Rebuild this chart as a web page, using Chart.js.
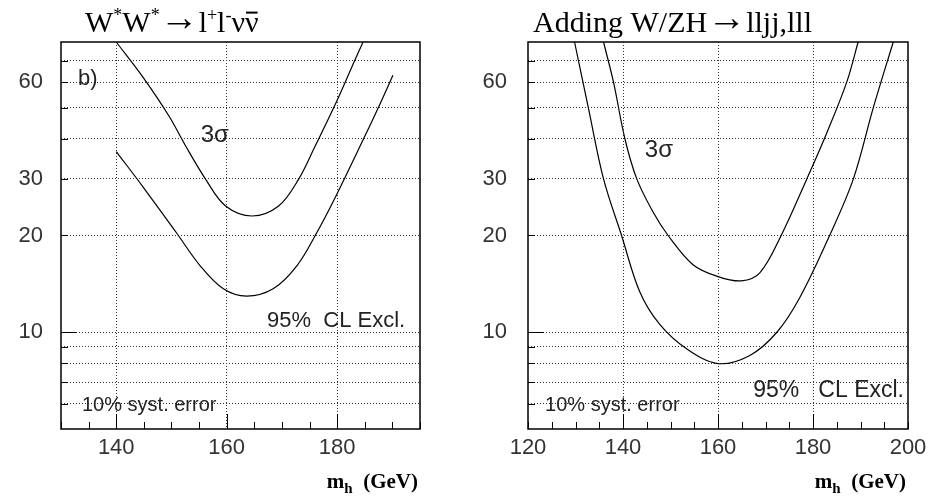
<!DOCTYPE html>
<html>
<head>
<meta charset="utf-8">
<script src="https://cdn.jsdelivr.net/npm/chart.js@4.4.1/dist/chart.umd.min.js"></script>
<style>
html, body { margin: 0; padding: 0; background: #fff; }
#wrap { position: relative; width: 944px; height: 499px; }
#wrap canvas { position: absolute; top: 0; }
</style>
</head>
<body>
<div id="wrap">
  <canvas id="leftChart" width="472" height="499" style="left:0"></canvas>
  <canvas id="rightChart" width="472" height="499" style="left:472px"></canvas>
</div>
<script>
// ---- data ----
// left panel: W*W* -> l+l- nu nubar
const leftMass3s = [140, 144.8, 149.6, 152.6, 156.2, 159.8, 164.6, 169.4, 173, 176, 179.6, 183.2, 184.7];
const left3s     = [80, 62.3, 46.9, 37.9, 29.9, 24.7, 23.0, 24.7, 29.9, 37.9, 50.9, 70.2, 80];
const leftMass95 = [140, 144.8, 150.9, 155.2, 159.4, 163.6, 168.4, 172.7, 176.3, 179.9, 184.7, 187.8, 190.1];
const left95     = [36.5, 28.4, 20.4, 16.1, 13.65, 12.95, 13.65, 16.1, 20.4, 26.8, 39.7, 51.5, 63];

// right panel: adding W/ZH -> lljj, lll
const rightMass3s = [135.9, 138, 140.4, 142.9, 146.3, 149.5, 154.8, 160, 164.9, 168.8, 173.3, 178.7, 182.9, 187.1, 189.5];
const right3s     = [80, 60, 40, 30, 23.7, 20, 16.2, 14.9, 14.45, 15.3, 20, 30, 41.7, 60, 80];
const rightMass95 = [129.8, 132.7, 135.9, 139.7, 143.5, 147.7, 153.4, 160, 166.7, 172.4, 177.2, 183.5, 188.5, 192.7, 196.9];
const right95     = [80, 50, 30, 20, 13.4, 10.6, 8.88, 7.99, 8.47, 10, 12.8, 20, 30, 50, 80];

// axes
const yGridValues  = [6, 7, 8, 9, 10, 20, 30, 40, 50, 60, 70];
const yLabelValues = [10, 20, 30, 60];
const yMajorValues = [10];
const leftXTicks   = [130, 135, 140, 145, 150, 155, 160, 165, 170, 175, 180, 185, 190, 195];
const rightXTicks  = [120, 125, 130, 135, 140, 145, 150, 155, 160, 165, 170, 175, 180, 185, 190, 195, 200];
const leftXLabels  = [140, 160, 180];
const rightXLabels = [120, 140, 160, 180, 200];
const xGridValues  = [140, 160, 180];

const SANS = "'Liberation Sans', Arial, sans-serif";
const SERIF = "'Liberation Serif', 'Times New Roman', serif";

Chart.defaults.animation = false;
Chart.defaults.plugins.legend.display = false;
Chart.defaults.plugins.tooltip.enabled = false;

// draw text made of pieces (superscripts, subscripts, overbars)
function drawRich(ctx, x, y, parts, size, family, weight) {
    parts.forEach(([t, s, dy, bar]) => {
        ctx.font = weight + ' ' + Math.round(size * s) + 'px ' + family;
        ctx.fillText(t, x, y + dy);
        const w = ctx.measureText(t).width;
        if (bar) {
            ctx.fillRect(x + 1, y - size * 0.68, w - 2, 2);
        }
        x += w;
    });
}

function toPoints(xs, ys) {
    return xs.map((m, i) => ({ x: m, y: ys[i] }));
}

// frame, inner ticks, annotations and titles
const panelDecor = {
    id: 'panelDecor',
    afterDraw(chart, args, opts) {
        const { ctx, chartArea: a, scales: { x, y } } = chart;
        ctx.save();
        ctx.strokeStyle = '#000';
        ctx.lineWidth = 1;
        ctx.beginPath();
        opts.xTicks.forEach(v => {
            const px = Math.round(x.getPixelForValue(v)) + 0.5;
            const len = xGridValues.includes(v) ? 15 : 7;
            ctx.moveTo(px, a.bottom);
            ctx.lineTo(px, a.bottom - len);
        });
        yGridValues.forEach(v => {
            const py = Math.round(y.getPixelForValue(v)) + 0.5;
            const len = yMajorValues.includes(v) ? 16 : 7;
            ctx.moveTo(a.left, py);
            ctx.lineTo(a.left + len, py);
        });
        ctx.stroke();

        ctx.lineWidth = 1.5;
        ctx.strokeRect(a.left, a.top, a.right - a.left, a.bottom - a.top);

        // labels inside the plot
        ctx.fillStyle = '#222';
        ctx.textBaseline = 'alphabetic';
        ctx.textAlign = 'left';
        opts.notes.forEach(n => {
            ctx.font = n.size + 'px ' + SANS;
            ctx.fillText(n.text, x.getPixelForValue(n.m), y.getPixelForValue(n.v));
        });

        // title
        ctx.fillStyle = '#000';
        drawRich(ctx, opts.titleX, 32, opts.title, 30, SERIF, 'normal');

        // x axis title
        const xt = [['m', 1, 0], ['h', 0.7, 5], ['  (GeV)', 1, 0]];
        let w = 0;
        xt.forEach(([t, s]) => {
            ctx.font = 'bold ' + Math.round(21 * s) + 'px ' + SERIF;
            w += ctx.measureText(t).width;
        });
        drawRich(ctx, a.right - 2 - w, 488, xt, 21, SERIF, 'bold');
        ctx.restore();
    }
};

function makePanel(id, cfg) {
    const ctx = document.getElementById(id);
    const lineStyle = {
        borderColor: '#000',
        backgroundColor: '#000',
        borderWidth: 1.2,
        pointRadius: 0,
        tension: 0.35,
        clip: 2
    };
    return new Chart(ctx, {
        type: 'scatter',
        data: {
            datasets: [
                Object.assign({ data: toPoints(cfg.mass3s, cfg.sig3s) }, lineStyle),
                Object.assign({ data: toPoints(cfg.mass95, cfg.cl95) }, lineStyle)
            ]
        },
        options: {
            responsive: false,
            devicePixelRatio: 1,
            showLine: true,
            layout: { padding: { top: 42, right: cfg.padRight, left: 0, bottom: 0 } },
            plugins: {
                panelDecor: {
                    xTicks: cfg.xTicks,
                    notes: cfg.notes,
                    title: cfg.title,
                    titleX: cfg.titleX
                }
            },
            scales: {
                x: {
                    type: 'linear',
                    min: cfg.xMin,
                    max: cfg.xMax,
                    afterBuildTicks: axis => { axis.ticks = cfg.xTicks.map(v => ({ value: v })); },
                    afterFit: axis => { axis.height = 70; },
                    grid: {
                        drawTicks: false,
                        color: c => (c.tick && xGridValues.includes(c.tick.value)) ? '#333' : 'rgba(0,0,0,0)'
                    },
                    border: { display: false, dash: [1, 2] },
                    ticks: {
                        autoSkip: false,
                        maxRotation: 0,
                        padding: 6,
                        color: '#333',
                        font: { family: SANS, size: 22 },
                        callback: v => cfg.xLabels.includes(v) ? String(v) : ''
                    }
                },
                y: {
                    type: 'logarithmic',
                    min: 5,
                    max: 80,
                    afterBuildTicks: axis => { axis.ticks = yGridValues.map(v => ({ value: v })); },
                    afterFit: axis => { axis.width = cfg.yWidth; },
                    grid: { drawTicks: false, color: '#333' },
                    border: { display: false, dash: [1, 2] },
                    ticks: {
                        autoSkip: false,
                        padding: cfg.yPad,
                        color: '#333',
                        font: { family: SANS, size: 22 },
                        callback: v => yLabelValues.includes(v) ? String(v) : ''
                    }
                }
            }
        },
        plugins: [panelDecor]
    });
}

makePanel('leftChart', {
    mass3s: leftMass3s, sig3s: left3s, mass95: leftMass95, cl95: left95,
    xMin: 130, xMax: 195, xTicks: leftXTicks, xLabels: leftXLabels,
    yWidth: 61, yPad: 18, padRight: 52, titleX: 85,
    title: [['W', 1, 0], ['*', 0.6, -11], ['W', 1, 0], ['*', 0.6, -11], ['\u2192', 1.3, -2],
            ['l', 1, 0], ['+', 0.6, -11], ['l', 1, 0], ['-', 0.6, -11], ['\u03bd', 1, 0], ['\u03bd', 1, 0, true]],
    notes: [
        { text: 'b)', m: 133.1, v: 58.7, size: 22 },
        { text: '3\u03c3', m: 155.3, v: 39.2, size: 24 },
        { text: '95%  CL Excl.', m: 167.3, v: 10.4, size: 22 },
        { text: '10% syst. error', m: 133.8, v: 5.7, size: 20 }
    ]
});

makePanel('rightChart', {
    mass3s: rightMass3s, sig3s: right3s, mass95: rightMass95, cl95: right95,
    xMin: 120, xMax: 200, xTicks: rightXTicks, xLabels: rightXLabels,
    yWidth: 56, yPad: 21, padRight: 36, titleX: 61,
    title: [['Adding W/ZH', 1, 0], ['\u2192', 1.3, -2], ['lljj,lll', 1, 0]],
    notes: [
        { text: '3\u03c3', m: 144.6, v: 35.0, size: 24 },
        { text: '95%   CL Excl.', m: 167.4, v: 6.3, size: 23 },
        { text: '10% syst. error', m: 123.6, v: 5.67, size: 20 }
    ]
});
</script>
</body>
</html>
